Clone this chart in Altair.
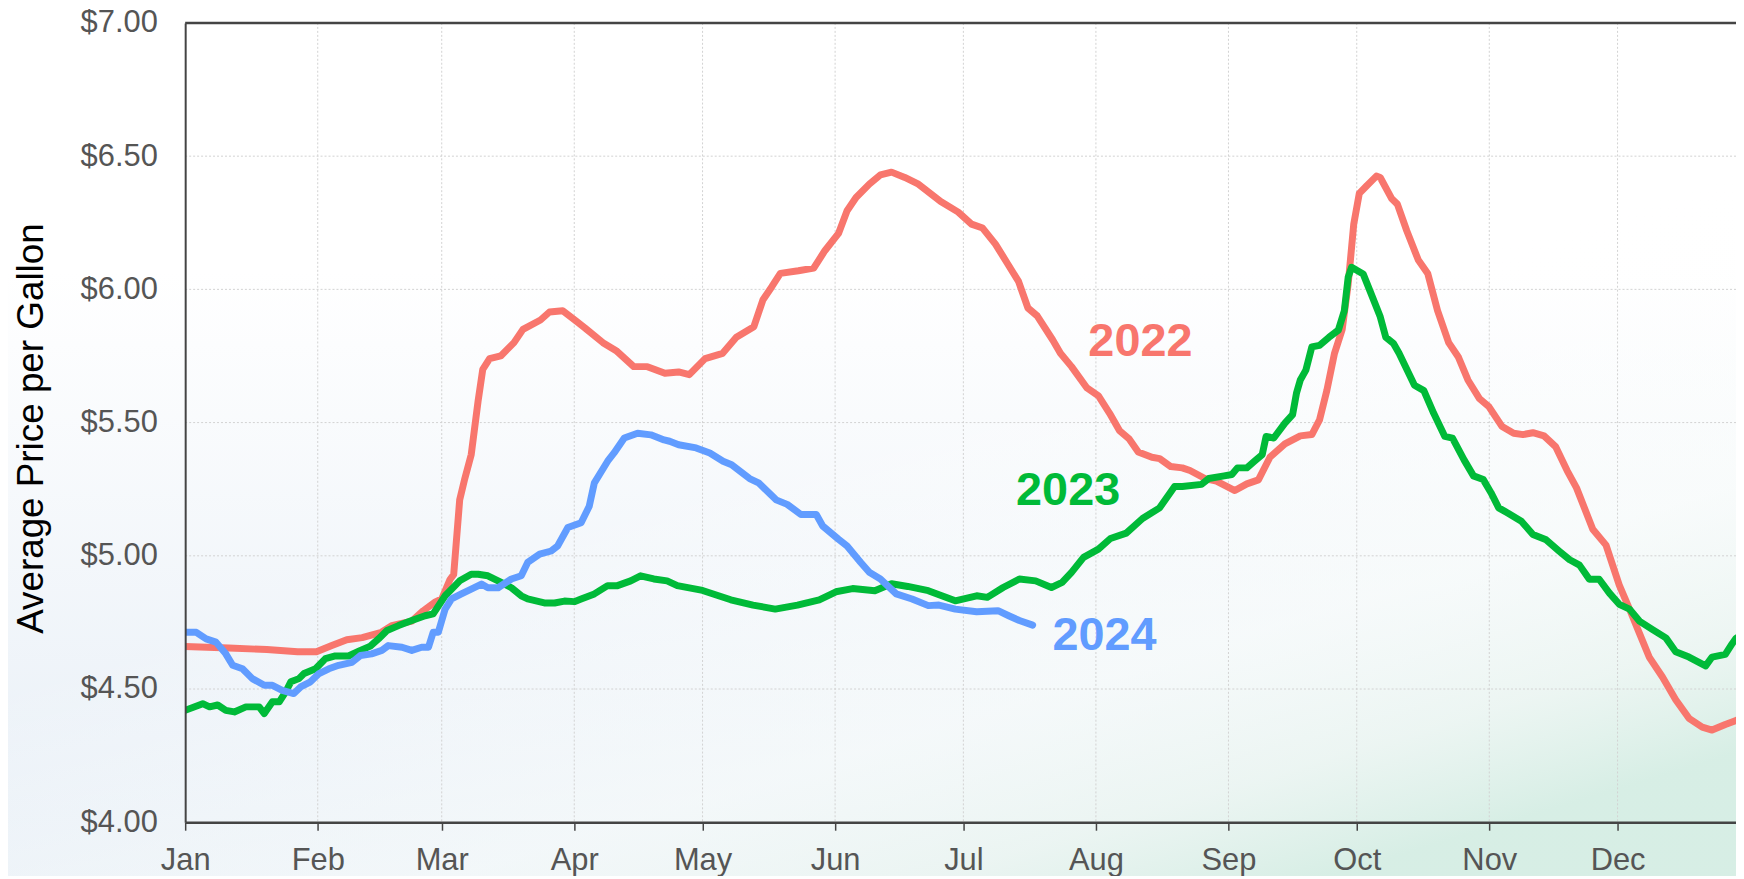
import altair as alt
import pandas as pd

# ---------------- data ----------------
series_names = ["2022", "2023", "2024"]
series_colors = ["#F8766D", "#00BA38", "#619CFF"]

month_names = ["Jan", "Feb", "Mar", "Apr", "May", "Jun",
               "Jul", "Aug", "Sep", "Oct", "Nov", "Dec"]
month_days = [0, 31, 60, 91, 121, 152, 182, 213, 244, 274, 305, 335]
price_ticks = [4.0, 4.5, 5.0, 5.5, 6.0, 6.5, 7.0]

days_2022 = [0, 10.2, 19.1, 26.3, 30.7, 34.3, 37.8, 41.4, 45.9, 48.3, 53.0, 55.7,
             58.3, 60.0, 61.9, 62.8, 64.2, 65.4, 66.9, 68.5, 69.6, 71.2, 73.8,
             76.9, 79.0, 83.1, 85.2, 88.3, 91.5, 93.5, 97.7, 100.8, 104.9, 108.1,
             112.2, 115.4, 117.9, 121.6, 125.7, 128.9, 133.0, 135.1, 137.2, 139.2,
             143.4, 147.0, 149.6, 152.8, 154.8, 156.9, 160.0, 162.6, 165.2, 168.3,
             171.5, 176.7, 180.8, 183.9, 186.5, 189.5, 192.2, 194.9, 197.1, 199.3,
             202.9, 204.7, 207.3, 210.9, 213.6, 216.2, 218.5, 220.7, 222.9, 226.1,
             227.9, 230.5, 233.2, 235.0, 238.5, 241.2, 245.5, 248.3, 251.0, 253.7,
             257.2, 260.8, 263.5, 265.3, 267.0, 268.8, 270.6, 272.0, 273.3, 274.6,
             276.4, 278.6, 279.5, 282.2, 283.5, 285.7, 288.4, 290.6, 292.9, 295.5,
             297.8, 300.0, 302.7, 304.9, 308.0, 310.7, 312.9, 315.2, 317.8, 320.5,
             323.2, 325.4, 329.2, 332.3, 335.4, 337.8, 340.1, 342.4, 345.5, 348.6,
             351.7, 354.8, 357.1, 360.2, 362.7, 364.5]
price_2022 = [4.66, 4.654, 4.648, 4.64, 4.64, 4.663, 4.685, 4.693, 4.713, 4.738, 4.755,
              4.794, 4.825, 4.838, 4.91, 4.93, 5.21, 5.29, 5.38, 5.58, 5.70, 5.74, 5.75,
              5.80, 5.85, 5.885, 5.915, 5.92, 5.88, 5.855, 5.80, 5.77, 5.71, 5.71,
              5.685, 5.69, 5.68, 5.74, 5.76, 5.82, 5.86, 5.96, 6.01, 6.06,
              6.07, 6.08, 6.145, 6.21, 6.295, 6.345, 6.395, 6.43, 6.44, 6.42,
              6.395, 6.33, 6.29, 6.245, 6.23, 6.17, 6.10, 6.03, 5.93, 5.90,
              5.81, 5.76, 5.71, 5.63, 5.60, 5.535, 5.47, 5.44, 5.39, 5.37,
              5.365, 5.335, 5.33, 5.32, 5.29, 5.28, 5.245, 5.27, 5.285, 5.37,
              5.42, 5.45, 5.455, 5.51, 5.62, 5.76, 5.85, 6.02, 6.245, 6.36,
              6.39, 6.425, 6.42, 6.34, 6.32, 6.22, 6.11, 6.06, 5.92, 5.80,
              5.745, 5.66, 5.59, 5.56, 5.485, 5.46, 5.455, 5.462, 5.45, 5.41,
              5.32, 5.255, 5.10, 5.04, 4.89, 4.80, 4.71, 4.62, 4.545, 4.46,
              4.39, 4.357, 4.346, 4.367, 4.382, 4.39]

days_2023 = [0, 4.1, 5.7, 7.6, 9.5, 11.5, 14.2, 17.3, 18.5, 20.4, 22.0, 23.5, 24.7,
             26.6, 27.8, 30.5, 32.8, 35.1, 38.2, 41.0, 43.3, 45.2, 47.2, 49.9, 53.0,
             56.1, 58.0, 60.8, 64.2, 66.9, 68.5, 70.8, 73.9, 76.3, 78.6, 80.1, 84.0,
             86.4, 88.7, 91.0, 92.6, 95.7, 98.8, 101.1, 104.2, 106.5, 109.6, 112.7,
             115.1, 121.0, 127.6, 132.8, 138.0, 143.2, 148.3, 152.2, 156.1, 161.3,
             165.2, 169.0, 173.8, 180.1, 185.1, 187.6, 191.3, 195.1, 198.9, 202.6,
             205.1, 207.3, 210.1, 213.6, 216.4, 220.1, 223.9, 227.9, 231.4, 233.2,
             237.7, 239.4, 243.0, 244.8, 246.1, 248.3, 250.1, 251.9, 252.8, 254.6,
             257.2, 259.0, 259.9, 260.8, 262.1, 263.5, 265.3, 267.5, 269.7, 271.1,
             272.0, 272.8, 275.5, 277.7, 279.5, 280.8, 282.6, 283.9, 287.5, 289.7,
             292.0, 294.6, 296.4, 299.1, 301.3, 303.6, 305.4, 307.2, 309.4, 312.5,
             315.2, 318.3, 321.4, 323.8, 326.1, 328.4, 330.7, 333.1, 335.4, 337.8,
             340.1, 343.2, 346.3, 348.6, 351.7, 355.6, 357.1, 360.2, 361.8, 362.7, 364.5]
price_2023 = [4.42, 4.445, 4.433, 4.44, 4.42, 4.414, 4.433, 4.433, 4.408, 4.452, 4.452,
              4.489, 4.527, 4.539, 4.558, 4.576, 4.614, 4.624, 4.624, 4.645, 4.661,
              4.688, 4.72, 4.738, 4.757, 4.775, 4.782, 4.85, 4.906, 4.931, 4.931,
              4.925, 4.90, 4.88, 4.85, 4.838, 4.823, 4.823, 4.83, 4.828, 4.838, 4.857,
              4.888, 4.888, 4.906, 4.925, 4.913, 4.906, 4.888, 4.87, 4.835, 4.815,
              4.80, 4.815, 4.835, 4.865, 4.877, 4.869, 4.895, 4.885, 4.869, 4.831,
              4.85, 4.844, 4.881, 4.913, 4.906, 4.881, 4.90, 4.938, 4.994, 5.025,
              5.065, 5.085, 5.14, 5.18, 5.26, 5.26, 5.268, 5.29, 5.30, 5.305, 5.33,
              5.33, 5.355, 5.38, 5.448, 5.442, 5.498, 5.53, 5.61, 5.66, 5.697, 5.784,
              5.79, 5.82, 5.847, 5.92, 6.046, 6.083, 6.058, 5.97, 5.897, 5.82, 5.797,
              5.76, 5.64, 5.62, 5.535, 5.448, 5.442, 5.36, 5.30, 5.286, 5.237, 5.18,
              5.16, 5.13, 5.08, 5.06, 5.017, 4.985, 4.965, 4.912, 4.912, 4.86, 4.818,
              4.80, 4.755, 4.723, 4.692, 4.64, 4.62, 4.587, 4.62, 4.63, 4.67, 4.69, 4.71]

days_2024 = [0, 2.6, 4.9, 7.2, 9.5, 11.1, 13.4, 15.7, 18.5, 20.4, 22.7, 25.4, 27.0,
             29.3, 31.3, 33.6, 35.9, 39.0, 41.0, 43.6, 46.0, 47.5, 50.7, 53.0, 55.3,
             56.9, 58.0, 59.2, 60.8, 62.3, 64.6, 66.9, 69.3, 70.8, 73.2, 76.3, 78.6,
             80.1, 82.9, 85.6, 87.1, 89.5, 92.6, 94.5, 95.7, 98.8, 100.3, 102.7, 105.8,
             108.9, 112.0, 113.3, 115.4, 119.5, 122.7, 125.8, 127.8, 132.0, 134.1,
             138.2, 140.8, 144.0, 147.6, 149.1, 152.8, 154.8, 158.0, 160.0, 162.6,
             166.3, 170.0, 173.8, 176.3, 180.1, 185.1, 190.1, 192.6, 195.1, 198.2]
price_2024 = [4.713, 4.713, 4.688, 4.676, 4.632, 4.589, 4.576, 4.539, 4.514, 4.514,
              4.495, 4.483, 4.508, 4.527, 4.558, 4.576, 4.589, 4.60, 4.626, 4.632,
              4.645, 4.663, 4.657, 4.645, 4.657, 4.657, 4.713, 4.713, 4.80, 4.838,
              4.857, 4.875, 4.894, 4.88, 4.88, 4.913, 4.925, 4.975, 5.006, 5.018,
              5.037, 5.106, 5.124, 5.186, 5.274, 5.355, 5.386, 5.442, 5.46, 5.454,
              5.435, 5.43, 5.417, 5.405, 5.386, 5.355, 5.342, 5.29, 5.274, 5.21,
              5.193, 5.155, 5.155, 5.112, 5.062, 5.037, 4.975, 4.938, 4.913, 4.857,
              4.838, 4.813, 4.815, 4.80, 4.79, 4.794, 4.775, 4.757, 4.74]

# direct labels next to each series
label_text = ["2022", "2023", "2024"]
label_day = [223.4, 206.5, 215.0]
label_price = [5.804, 5.243, 4.70]

title_text = "2022, 2023, and 2024"

# ---------------- build tables ----------------
rows = []
for name, ds, ps in [("2022", days_2022, price_2022),
                     ("2023", days_2023, price_2023),
                     ("2024", days_2024, price_2024)]:
    for d, p in zip(ds, ps):
        rows.append({"year": name, "day": d, "price": p})
lines_df = pd.DataFrame(rows)
labels_df = pd.DataFrame({"year": label_text, "day": label_day, "price": label_price})
vgrid_df = pd.DataFrame({"day": month_days[1:]})
hgrid_df = pd.DataFrame({"price": price_ticks[1:-1]})

W, H = 1558, 803
PAD_L, PAD_T, PAD_B = 178, 13, 52
X_MAX = 362.7
GRID = "#d2d2d2"

xscale = alt.Scale(domain=[0, X_MAX], nice=False, zero=False)
yscale = alt.Scale(domain=[4, 7], nice=False, zero=False)
cscale = alt.Scale(domain=series_names, range=series_colors)

label_expr = "[%s][indexof([%s], datum.value)]" % (
    ",".join("'%s'" % m for m in month_names),
    ",".join(str(d) for d in month_days))

x_axis = alt.Axis(values=month_days, labelExpr=label_expr, title=None, grid=False,
                  tickSize=8, tickColor="#444444", tickWidth=1.5,
                  domainColor="#444444", domainWidth=2.5,
                  labelFont="Liberation Sans", labelFontSize=31, labelColor="#555555",
                  labelPadding=15, labelFlush=False, zindex=2)
y_axis = alt.Axis(values=price_ticks, format="$.2f", ticks=False, labelPadding=28,
                  grid=False, domainColor="#444444", domainWidth=2,
                  labelFont="Liberation Sans", labelFontSize=31, labelColor="#555555",
                  title="Average Price per Gallon", titleFont="Liberation Sans",
                  titleFontSize=37, titleFontWeight="normal", titleColor="#000000",
                  titleAngle=270, titleAlign="center", titleBaseline="middle",
                  titleX=-154, titleY=407, zindex=2)

bg_df = pd.DataFrame({"k": [0]})
bg = alt.Chart(bg_df).mark_rect(
    fill=alt.Gradient(gradient="linear", x1=0, y1=0, x2=0, y2=1,
                      stops=[alt.GradientStop(color="#ffffff", offset=0),
                             alt.GradientStop(color="#ffffff", offset=0.3),
                             alt.GradientStop(color="#e6eef6", offset=1)]),
    strokeWidth=0
).encode(x=alt.value(-PAD_L), x2=alt.value(W), y=alt.value(-PAD_T), y2=alt.value(H + PAD_B + 10))

green = alt.Chart(bg_df).mark_rect(
    fill=alt.Gradient(gradient="linear", x1=0.45, y1=0.5, x2=0.75, y2=1.0,
                      stops=[alt.GradientStop(color="rgba(255,255,255,0)", offset=0),
                             alt.GradientStop(color="rgba(250,253,251,0.6)", offset=0.55),
                             alt.GradientStop(color="rgba(236,246,241,0.8)", offset=0.8),
                             alt.GradientStop(color="rgba(214,238,228,0.95)", offset=1)]),
    strokeWidth=0
).encode(x=alt.value(-PAD_L), x2=alt.value(W), y=alt.value(-PAD_T), y2=alt.value(H + PAD_B + 10))

vgrid = alt.Chart(vgrid_df).mark_rule(color=GRID, strokeWidth=1, strokeDash=[2, 2]).encode(
    x=alt.X("day:Q", scale=xscale, axis=x_axis))
hgrid = alt.Chart(hgrid_df).mark_rule(color=GRID, strokeWidth=1, strokeDash=[2, 2]).encode(
    y=alt.Y("price:Q", scale=yscale, axis=y_axis))

top_rule = alt.Chart(bg_df).mark_rule(color="#444444", strokeWidth=2.5).encode(
    y=alt.datum(7.0, scale=yscale), x=alt.value(0), x2=alt.value(W))

lines = alt.Chart(lines_df).mark_line(strokeWidth=7, clip=True, strokeJoin="round",
                                      strokeCap="round").encode(
    x=alt.X("day:Q", scale=xscale, axis=x_axis),
    y=alt.Y("price:Q", scale=yscale, axis=y_axis),
    color=alt.Color("year:N", scale=cscale, legend=None),
    order=alt.Order("day:Q"),
)

labels = alt.Chart(labels_df).mark_text(font="Liberation Sans", fontSize=47,
                                        fontWeight="bold", align="center",
                                        baseline="middle").encode(
    x=alt.X("day:Q", scale=xscale, axis=x_axis),
    y=alt.Y("price:Q", scale=yscale, axis=y_axis),
    text="year:N",
    color=alt.Color("year:N", scale=cscale, legend=None),
)

chart = alt.layer(bg, green, vgrid, hgrid, lines, top_rule, labels).properties(
    width=W, height=H,
    title=alt.TitleParams(text=title_text, font="Liberation Sans", fontSize=46,
                          fontWeight="bold", color="#0b2563", anchor="middle",
                          dx=-76, offset=12, baseline="alphabetic"),
    autosize=alt.AutoSizeParams(type="none"),
    padding={"left": PAD_L, "top": PAD_T, "right": 0, "bottom": PAD_B},
).configure_view(stroke=None).configure(background="#ffffff")

chart.save("out.html", embed_options={"renderer": "svg", "actions": False})
